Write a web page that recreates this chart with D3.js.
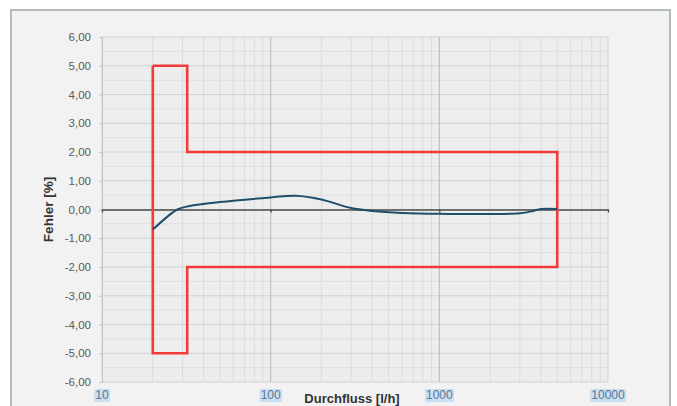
<!DOCTYPE html>
<html>
<head>
<meta charset="utf-8">
<script src="https://cdn.jsdelivr.net/npm/d3@7"></script>
<style>
  body { margin: 0; background: #fff; }
  text { font-family: "Liberation Sans", Arial, sans-serif; }
</style>
</head>
<body>
<div id="chart"></div>
<script>
// Data
const flow = [20, 28, 33, 50, 100, 140, 200, 300, 400, 600, 1000, 3000, 3600, 4000, 5000];
const error = [-0.70, 0.0, 0.12, 0.26, 0.42, 0.48, 0.35, 0.05, -0.05, -0.12, -0.15, -0.13, -0.05, 0.02, 0.02];

// tolerance band outline
const limitX = [20, 32, 32, 5000, 5000, 32, 32, 20, 20];
const limitY = [5, 5, 2, 2, -2, -2, -5, -5, 5];

const yTicks = [-6, -5, -4, -3, -2, -1, 0, 1, 2, 3, 4, 5, 6];
const xTicks = [10, 100, 1000, 10000];

// Setup layout
const svgWidth = 677;
const svgHeight = 406;
const margin = { top: 37, right: 69, bottom: 24, left: 102 };
const width = svgWidth - margin.left - margin.right;
const height = svgHeight - margin.top - margin.bottom;

const svg = d3.select("#chart")
  .append("svg")
  .attr("width", svgWidth)
  .attr("height", svgHeight);

// outer frame
svg.append("rect")
  .attr("x", 11).attr("y", 10)
  .attr("width", 659).attr("height", 410)
  .attr("fill", "#f2f2f2")
  .attr("stroke", "#b3bbbb")
  .attr("stroke-width", 2);

const chartGroup = svg.append("g")
  .attr("transform", `translate(${margin.left}, ${margin.top})`);

const xScale = d3.scaleLog().domain([10, 10000]).range([0, width]);
const yScale = d3.scaleLinear().domain([-6, 6]).range([height, 0]);

// plot background
chartGroup.append("rect")
  .attr("width", width).attr("height", height)
  .attr("fill", "#ededed");

// minor vertical grid
const minorX = [];
for (let d = 10; d < 10000; d *= 10) {
  for (let k = 2; k <= 9; k++) minorX.push(d * k);
}
chartGroup.append("g").selectAll("line")
  .data(minorX).enter().append("line")
  .attr("x1", d => xScale(d)).attr("x2", d => xScale(d))
  .attr("y1", 0).attr("y2", height)
  .attr("stroke", "#dcdcdc").attr("stroke-width", 1);

// horizontal grid every 0.5
const gridY = d3.range(-6, 6.01, 0.5);
chartGroup.append("g").selectAll("line")
  .data(gridY).enter().append("line")
  .attr("x1", 0).attr("x2", width)
  .attr("y1", d => yScale(d)).attr("y2", d => yScale(d))
  .attr("stroke", d => Number.isInteger(d) ? "#d2d2d2" : "#dedede")
  .attr("stroke-width", 1);

// major vertical grid
chartGroup.append("g").selectAll("line")
  .data(xTicks).enter().append("line")
  .attr("x1", d => xScale(d)).attr("x2", d => xScale(d))
  .attr("y1", 0).attr("y2", height)
  .attr("stroke", d => (d === 10 || d === 10000) ? "#d2d2d2" : "#b9b9b9")
  .attr("stroke-width", 1);

// y axis
const leftAxis = d3.axisLeft(yScale)
  .tickValues(yTicks)
  .tickSize(3)
  .tickPadding(8)
  .tickFormat(d => d.toFixed(2).replace(".", ","));

const yAxis = chartGroup.append("g").call(leftAxis);
yAxis.select(".domain").attr("stroke", "#c4c4c4");
yAxis.selectAll(".tick line").attr("stroke", "#c4c4c4");
yAxis.selectAll("text")
  .attr("fill", "#5a5a5a")
  .style("font-size", "11.5px");

// x axis on zero line
const bottomAxis = d3.axisBottom(xScale)
  .tickValues(xTicks)
  .tickSize(3)
  .tickSizeOuter(0)
  .tickFormat("");

const xAxis = chartGroup.append("g")
  .attr("transform", `translate(0, ${yScale(0)})`)
  .call(bottomAxis);
xAxis.select(".domain").attr("stroke", "#4a4a4a").attr("stroke-width", 1.3);
xAxis.selectAll(".tick line").attr("stroke", "#4a4a4a").attr("stroke-width", 1.3);

// x tick labels with highlight box
const xLabels = chartGroup.append("g").selectAll("g")
  .data(xTicks).enter().append("g")
  .attr("transform", d => `translate(${xScale(d)}, ${height + 17})`);

xLabels.append("text")
  .attr("text-anchor", "middle")
  .attr("fill", "#5b7896")
  .style("font-size", "12px")
  .text(d => d)
  .each(function() {
    const b = this.getBBox();
    d3.select(this.parentNode).insert("rect", "text")
      .attr("x", b.x - 1).attr("y", b.y + 1)
      .attr("width", b.width + 2).attr("height", b.height - 1)
      .attr("fill", "#c9def0");
  });

// tolerance limits
const limitLine = d3.line()
  .x(d => xScale(d[0]))
  .y(d => yScale(d[1]));

chartGroup.append("path")
  .datum(limitX.map((x, i) => [x, limitY[i]]))
  .attr("d", limitLine)
  .attr("fill", "none")
  .attr("stroke", "#f23a3a")
  .attr("stroke-width", 2.6)
  .attr("stroke-linejoin", "miter");

// error curve (smoothed like the spreadsheet line)
const errorLine = d3.line()
  .x(d => xScale(d[0]))
  .y(d => yScale(d[1]))
  .curve(d3.curveCatmullRom.alpha(0.5));

chartGroup.append("path")
  .datum(flow.map((x, i) => [x, error[i]]))
  .attr("d", errorLine)
  .attr("fill", "none")
  .attr("stroke", "#1f4e6b")
  .attr("stroke-width", 2);

// axis titles
svg.append("text")
  .attr("transform", `translate(53, ${margin.top + yScale(0)}) rotate(-90)`)
  .attr("text-anchor", "middle")
  .attr("fill", "#333")
  .style("font-size", "13.5px")
  .style("font-weight", "bold")
  .text("Fehler [%]");

svg.append("text")
  .attr("x", 352)
  .attr("y", 402.5)
  .attr("text-anchor", "middle")
  .attr("fill", "#333")
  .style("font-size", "13px")
  .style("font-weight", "bold")
  .text("Durchfluss [l/h]");
</script>
</body>
</html>
